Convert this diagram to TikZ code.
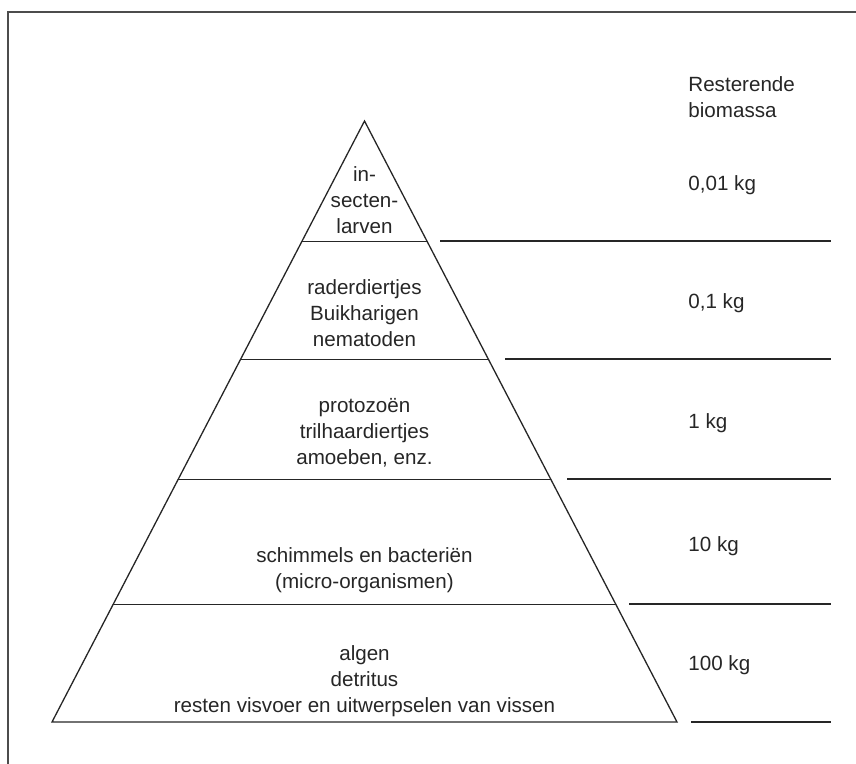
\documentclass[tikz,border=0pt]{standalone}
\usepackage{fontspec}
\setmainfont{Liberation Sans}
\usetikzlibrary{positioning, calc}

\begin{document}
\begin{tikzpicture}[
    x=0.5pt, y=-0.5pt,
    every node/.style={font=\fontsize{10.3}{13}\selectfont, text=black!85, inner sep=0pt},
    layer/.style={align=center},
    mass/.style={anchor=west, align=left},
    edge/.style={draw=black!85, line width=0.65pt},
    frame/.style={draw=black!70, line width=1pt},
]

\useasboundingbox (0,0) rectangle (856,764);

% frame, open at right and bottom
\draw[frame] (8,764) -- (8,12) -- (856,12);

% pyramid
\coordinate (top) at (364.5,121);
\coordinate (bl) at (52,722);
\coordinate (br) at (677,722);
\draw[edge] (bl) -- (top) -- (br) -- cycle;

% levels inside the pyramid
\foreach \t in {0.2,0.397,0.596,0.804}
  \draw[edge] ($(top)!\t!(bl)$) -- ($(top)!\t!(br)$);

% levels on the right
\foreach \y/\xs in {241/440, 359/505, 479/567, 604/629, 722/691}
  \draw[edge] (\xs,\y) -- (831,\y);

% organisms
\node[layer] (larven) at (364.5,200) {in-\\secten-\\larven};
\node[layer] (raders) at (364.5,313) {raderdiertjes\\Buikharigen\\nematoden};
\node[layer] (protozoa) at (364.5,433) {protozoën\\trilhaardiertjes\\amoeben, enz.};
\node[layer] (micro) at (364.5,570) {schimmels en bacteriën\\(micro-organismen)};
\node[layer] (algen) at (364.5,681) {algen\\detritus\\resten visvoer en uitwerpselen van vissen};

% biomass
\node[mass] (head) at (688,97) {Resterende\\biomassa};
\node[mass] (m1) at (688,185) {0,01 kg};
\node[mass] (m2) at (688,303) {0,1 kg};
\node[mass] (m3) at (688,423) {1 kg};
\node[mass] (m4) at (688,546) {10 kg};
\node[mass] (m5) at (688,665) {100 kg};

\end{tikzpicture}
\end{document}
